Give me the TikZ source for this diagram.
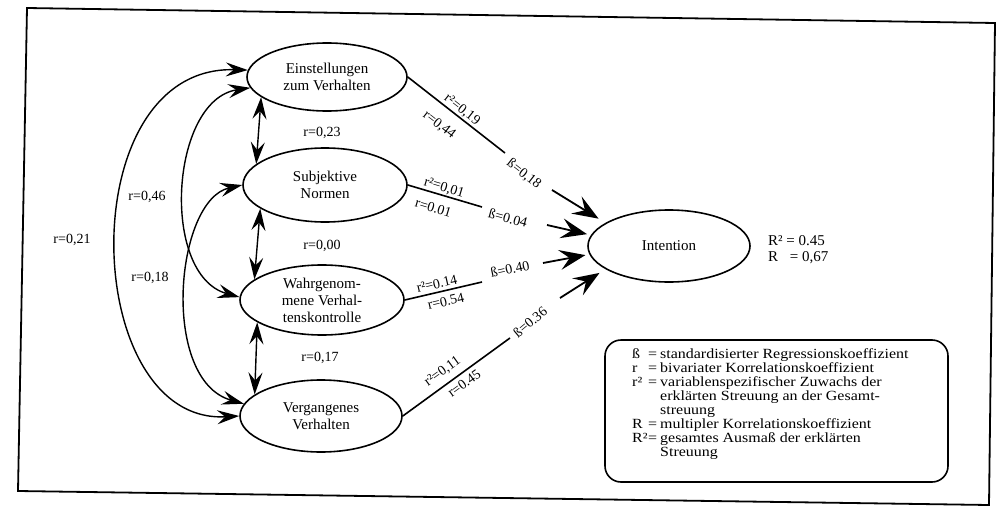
\documentclass[tikz,border=0pt]{standalone}
\usepackage{fontspec}
\setmainfont{Liberation Serif}
\newfontfamily\legfont[FakeStretch=1.14]{Liberation Serif}
\usetikzlibrary{shapes.geometric,arrows.meta}
\begin{document}
\begin{tikzpicture}[x=1pt,y=-1pt,
  var/.style={ellipse, draw, line width=1.6pt, inner sep=0pt, align=center, font=\fontsize{15}{17}\selectfont},
  ln/.style={line width=1.6pt},
  dbl/.style={line width=1.4pt, {Stealth[length=22pt,width=14pt,inset=8pt]}-{Stealth[length=22pt,width=14pt,inset=8pt]}},
  bigarr/.style={line width=1.8pt, -{Stealth[length=26pt,width=20pt,inset=10pt]}},
  lab/.style={inner sep=1pt, font=\fontsize{14}{16}\selectfont}
]
\useasboundingbox (0,0) rectangle (999,506);
% frame
\draw[line width=1.8pt] (27,8) -- (995,23) -- (989,505) -- (18,491) -- cycle;

% variables
\node[var, minimum width=160pt, minimum height=68pt] (einst) at (327,77) {Einstellungen\\zum Verhalten};
\node[var, minimum width=164pt, minimum height=74pt] (subj) at (325,185) {Subjektive\\Normen};
\node[var, minimum width=164pt, minimum height=70pt] (wahr) at (322,300) {Wahrgenom-\\mene Verhal-\\tenskontrolle};
\node[var, minimum width=162pt, minimum height=72pt] (verg) at (321,416) {Vergangenes\\Verhalten};
\node[var, minimum width=162pt, minimum height=72pt] (int) at (669,246) {Intention};

% correlations between neighbours
\draw[dbl] (einst.197) -- (subj.163);
\draw[dbl] (subj.200) -- (wahr.163);
\draw[dbl] (wahr.199) -- (verg.162);
\node[lab] (r23) at (322,133) {r=0,23};
\node[lab] (r00) at (322,246) {r=0,00};
\node[lab] (r17) at (320,358) {r=0,17};

% long correlations
\draw[dbl] (einst.175) .. controls (70,65) and (80,425) .. (verg.west);
\draw[dbl] (einst.188) .. controls (170,100) and (160,275) .. (wahr.178);
\draw[dbl] (subj.west) .. controls (175,200) and (160,380) .. (verg.171);
\node[lab] (r21) at (72,240) {r=0,21};
\node[lab] (r46) at (147,197) {r=0,46};
\node[lab] (r18) at (150,278) {r=0,18};

% paths to intention
\coordinate (b1) at (505,153); \coordinate (s1) at (552,190);
\coordinate (b2) at (482,207); \coordinate (s2) at (547,225);
\coordinate (b3) at (482,282); \coordinate (s3) at (543,263);
\coordinate (b4) at (510,338); \coordinate (s4) at (560,298);
\draw[ln] (einst.east) -- node[lab, sloped, above, pos=0.51] (l1a) {r²=0,19}
                          node[lab, sloped, below=11pt, pos=0.44] (l1b) {r=0,44} (b1);
\draw[ln] (subj.east) -- node[lab, sloped, above, pos=0.46] (l2a) {r²=0,01}
                         node[lab, sloped, below=8pt, pos=0.40] (l2b) {r=0.01} (b2);
\draw[ln] (wahr.east) -- node[lab, sloped, above=2pt, pos=0.44] (l3a) {r²=0.14}
                         node[lab, sloped, below=4pt, pos=0.50] (l3b) {r=0.54} (b3);
\draw[ln] (verg.east) -- node[lab, sloped, above=5pt, pos=0.44] (l4a) {r²=0,11}
                         node[lab, sloped, below=3pt, pos=0.52] (l4b) {r=0.45} (b4);
\draw[bigarr, shorten >=8pt] (s1) -- (int.160);
\draw[bigarr, shorten >=4pt] (s2) -- (int.172);
\draw[bigarr, shorten >=4pt] (s3) -- (int.186);
\draw[bigarr, shorten >=7pt] (s4) -- (int.200);

\node[lab, rotate=-38, inner sep=0pt] (l1c) at (524,174) {ß=0,18};
\node[lab, rotate=-15, inner sep=0pt] (l2c) at (508,218) {ß=0.04};
\node[lab, rotate=12, inner sep=0pt] (l3c) at (510,269) {ß=0.40};
\node[lab, rotate=40, inner sep=0pt] (l4c) at (530,322) {ß=0.36};

% R values
\node[anchor=west, align=left, inner sep=0pt, font=\fontsize{15}{16}\selectfont] (rr) at (768,250) {R² = 0.45\\R\hspace*{8pt} = 0,67};

% legend
\node[draw, line width=1.6pt, rounded corners=16pt, minimum width=343pt, minimum height=142pt, inner sep=0pt] (legbox) at (776.5,411) {};
\node[anchor=north west, align=left, inner sep=0pt, font=\legfont\fontsize{14}{14}\selectfont] (legtext) at (632,348) {%
\makebox[16pt][l]{ß}\makebox[12pt][l]{=}standardisierter Regressionskoeffizient\\
\makebox[16pt][l]{r}\makebox[12pt][l]{=}bivariater Korrelationskoeffizient\\
\makebox[16pt][l]{r²}\makebox[12pt][l]{=}variablenspezifischer Zuwachs der\\
\hspace*{28pt}erklärten Streuung an der Gesamt-\\
\hspace*{28pt}streuung\\
\makebox[16pt][l]{R}\makebox[12pt][l]{=}multipler Korrelationskoeffizient\\
\makebox[16pt][l]{R²}\makebox[12pt][l]{=}gesamtes Ausmaß der erklärten\\
\hspace*{28pt}Streuung};
\end{tikzpicture}
\end{document}
